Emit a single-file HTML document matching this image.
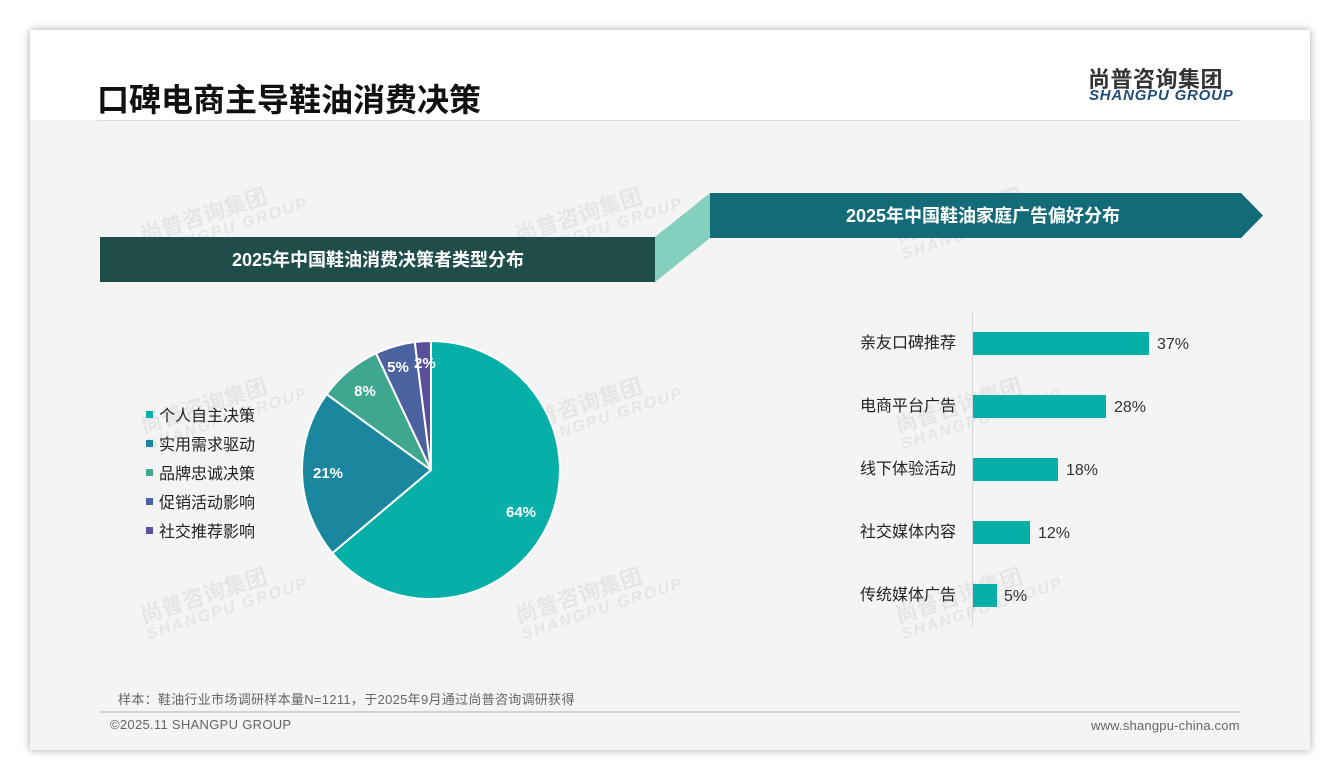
<!DOCTYPE html>
<html><head><meta charset="utf-8"><style>
body{margin:0;width:1340px;height:780px;background:#fff;position:relative;overflow:hidden;font-family:"Liberation Sans","Noto Sans CJK SC",sans-serif}
.card{position:absolute;left:30px;top:30px;width:1280px;height:720px;background:#f4f4f4;box-shadow:0 0 8px rgba(0,0,0,.35)}
.abs{position:absolute;white-space:nowrap}
.wm{position:absolute;color:rgba(0,0,0,.06);font-weight:bold;transform:rotate(-18deg);font-size:22px;line-height:20px}
.wm small{display:block;font-size:16px;font-style:italic;letter-spacing:2px}
</style></head><body>
<div class="card"></div>
<div class="abs" style="left:30px;top:30px;width:1280px;height:90px;background:#fff"></div>
<div class="abs" style="left:97px;top:75px;font-size:32px;font-weight:bold;color:#111">口碑电商主导鞋油消费决策</div>
<div class="abs" style="left:1088px;top:62px;font-size:22px;font-weight:bold;color:#333;letter-spacing:0.5px">尚普咨询集团</div>
<div class="abs" style="left:1089px;top:87px;font-size:15px;font-weight:bold;font-style:italic;color:#1f4e79;letter-spacing:0.8px">SHANGPU GROUP</div>
<div class="abs" style="left:97px;top:120px;width:1143px;height:1px;background:#ddd"></div>

<div class="wm" style="left:140px;top:200px">尚普咨询集团<small>SHANGPU GROUP</small></div>
<div class="wm" style="left:515px;top:200px">尚普咨询集团<small>SHANGPU GROUP</small></div>
<div class="wm" style="left:895px;top:200px">尚普咨询集团<small>SHANGPU GROUP</small></div>
<div class="wm" style="left:140px;top:390px">尚普咨询集团<small>SHANGPU GROUP</small></div>
<div class="wm" style="left:515px;top:390px">尚普咨询集团<small>SHANGPU GROUP</small></div>
<div class="wm" style="left:895px;top:390px">尚普咨询集团<small>SHANGPU GROUP</small></div>
<div class="wm" style="left:140px;top:580px">尚普咨询集团<small>SHANGPU GROUP</small></div>
<div class="wm" style="left:515px;top:580px">尚普咨询集团<small>SHANGPU GROUP</small></div>
<div class="wm" style="left:895px;top:580px">尚普咨询集团<small>SHANGPU GROUP</small></div>

<svg class="abs" style="left:0;top:0" width="1340" height="780">
<polygon points="655,237 710,193 710,238 655,282" fill="#84cfbe"/>
<rect x="100" y="237" width="555" height="45" fill="#1f4e4a"/>
<polygon points="710,193 1241,193 1263,215.5 1241,238 710,238" fill="#146b78"/>
<text x="378" y="266" fill="#fff" font-size="18" font-weight="bold" text-anchor="middle" font-family="Liberation Sans,Noto Sans CJK SC,sans-serif">2025年中国鞋油消费决策者类型分布</text>
<text x="983" y="222" fill="#fff" font-size="18" font-weight="bold" text-anchor="middle" font-family="Liberation Sans,Noto Sans CJK SC,sans-serif">2025年中国鞋油家庭广告偏好分布</text>
<g stroke="#fff" stroke-width="2">
<path d="M431,470 L431,341 A129,129 0 1 1 332.3,553.1 Z" fill="#06afa8"/>
<path d="M431,470 L332.3,553.1 A129,129 0 0 1 326.6,394.2 Z" fill="#1a879e"/>
<path d="M431,470 L326.6,394.2 A129,129 0 0 1 376.1,353.3 Z" fill="#3fa690"/>
<path d="M431,470 L376.1,353.3 A129,129 0 0 1 414.8,342.0 Z" fill="#4b62a0"/>
<path d="M431,470 L414.8,342.0 A129,129 0 0 1 431,341 Z" fill="#5a4f9c"/>
</g>
<g fill="#fff" font-size="15" font-weight="bold" font-family="Liberation Sans,sans-serif" text-anchor="middle">
<text x="521" y="517">64%</text><text x="328" y="478">21%</text><text x="365" y="396">8%</text><text x="398" y="372">5%</text><text x="425" y="368">2%</text>
</g>
<g font-size="16" fill="#222" font-family="Liberation Sans,Noto Sans CJK SC,sans-serif">
<rect x="146" y="411" width="7" height="7" fill="#06afa8"/><text x="159" y="421">个人自主决策</text>
<rect x="146" y="440" width="7" height="7" fill="#1a879e"/><text x="159" y="450">实用需求驱动</text>
<rect x="146" y="469" width="7" height="7" fill="#3fa690"/><text x="159" y="479">品牌忠诚决策</text>
<rect x="146" y="498" width="7" height="7" fill="#4b62a0"/><text x="159" y="508">促销活动影响</text>
<rect x="146" y="527" width="7" height="7" fill="#5a4f9c"/><text x="159" y="537">社交推荐影响</text>
</g>
<line x1="972.5" y1="311" x2="972.5" y2="627" stroke="#d8d8d8"/>
<g fill="#06afa8">
<rect x="973" y="332" width="176" height="23"/><rect x="973" y="395" width="133" height="23"/><rect x="973" y="458" width="85" height="23"/><rect x="973" y="521" width="57" height="23"/><rect x="973" y="584" width="24" height="23"/>
</g>
<g font-size="16" fill="#222" font-family="Liberation Sans,Noto Sans CJK SC,sans-serif" text-anchor="end">
<text x="956" y="348">亲友口碑推荐</text><text x="956" y="411">电商平台广告</text><text x="956" y="474">线下体验活动</text><text x="956" y="537">社交媒体内容</text><text x="956" y="600">传统媒体广告</text>
</g>
<g font-size="16" fill="#333" font-family="Liberation Sans,sans-serif">
<text x="1157" y="349">37%</text><text x="1114" y="412">28%</text><text x="1066" y="475">18%</text><text x="1038" y="538">12%</text><text x="1004" y="601">5%</text>
</g>
<line x1="100" y1="712" x2="1240" y2="712" stroke="#9db3c8"/>
</svg>
<div class="abs" style="left:118px;top:689px;font-size:13px;color:#666;letter-spacing:0.3px">样本：鞋油行业市场调研样本量N=1211，于2025年9月通过尚普咨询调研获得</div>
<div class="abs" style="left:110px;top:717px;font-size:13px;color:#666;letter-spacing:0.3px">©2025.11 SHANGPU GROUP</div>
<div class="abs" style="left:1091px;top:718px;font-size:13px;color:#666;letter-spacing:0.2px">www.shangpu-china.com</div>
</body></html>
